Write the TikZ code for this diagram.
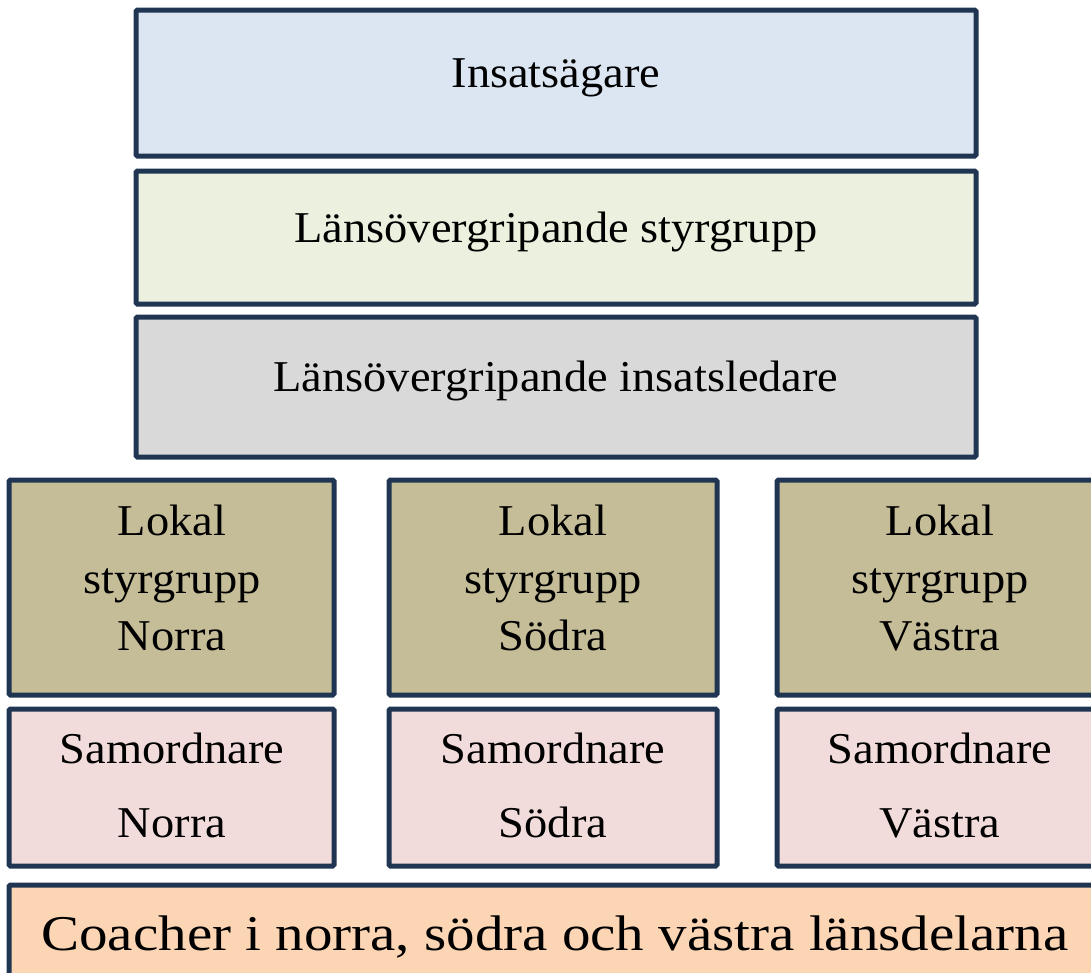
\documentclass[tikz,border=0pt]{standalone}
\usepackage{fontspec}
\setmainfont[FakeStretch=1.055]{Liberation Serif}
\newfontfamily\widefont[FakeStretch=1.14]{Liberation Serif}
\definecolor{bordc}{HTML}{1F3552}
\definecolor{cA}{HTML}{DCE6F2}
\definecolor{cB}{HTML}{EBF1DE}
\definecolor{cC}{HTML}{D9D9D9}
\definecolor{cD}{HTML}{C4BD97}
\definecolor{cE}{HTML}{F2DCDB}
\definecolor{cF}{HTML}{FCD5B5}
\begin{document}
\begin{tikzpicture}[x=1pt,y=-1pt,
  box/.style={draw=bordc, line width=5pt, rounded corners=1.5pt, inner sep=0pt, outer sep=0pt},
  lbl/.style={font=\fontsize{44}{57}\selectfont, anchor=base, inner sep=0pt},
  big/.style={font=\widefont\fontsize{50}{60}\selectfont, anchor=base, inner sep=0pt}]
\useasboundingbox (0,0) rectangle (1091,972);
\clip (0,0) rectangle (1091,972);
% top boxes
\node[box, fill=cA, minimum width=840pt, minimum height=146pt] (b1) at (556,83) {};
\node[box, fill=cB, minimum width=840pt, minimum height=133pt] (b2) at (556,237.5) {};
\node[box, fill=cC, minimum width=840pt, minimum height=140pt] (b3) at (556,387) {};
% local steering groups
\node[box, fill=cD, minimum width=325pt, minimum height=215pt] (l1) at (171.5,587.5) {};
\node[box, fill=cD, minimum width=328pt, minimum height=215pt] (l2) at (553,587.5) {};
\node[box, fill=cD, minimum width=330pt, minimum height=215pt] (l3) at (942,587.5) {};
% coordinators
\node[box, fill=cE, minimum width=325pt, minimum height=157pt] (s1) at (171.5,787.5) {};
\node[box, fill=cE, minimum width=328pt, minimum height=157pt] (s2) at (553,787.5) {};
\node[box, fill=cE, minimum width=330pt, minimum height=157pt] (s3) at (942,787.5) {};
% coaches
\node[box, fill=cF, minimum width=1100pt, minimum height=110pt] (c1) at (559,940) {};
% labels
\node[lbl] (t1) at (556,87) {Insatsägare};
\node[lbl] (t2) at (556,242) {Länsövergripande styrgrupp};
\node[lbl] (t3) at (556,391) {Länsövergripande insatsledare};
\node[lbl] (l1a) at (172,535) {Lokal};
\node[lbl] (l1b) at (172,593) {styrgrupp};
\node[lbl] (l1c) at (172,650) {Norra};
\node[lbl] (l2a) at (553,535) {Lokal};
\node[lbl] (l2b) at (553,593) {styrgrupp};
\node[lbl] (l2c) at (553,650) {Södra};
\node[lbl] (l3a) at (940,535) {Lokal};
\node[lbl] (l3b) at (940,593) {styrgrupp};
\node[lbl] (l3c) at (940,650) {Västra};
\node[lbl] (s1a) at (172,763) {Samordnare};
\node[lbl] (s1b) at (172,837) {Norra};
\node[lbl] (s2a) at (553,763) {Samordnare};
\node[lbl] (s2b) at (553,837) {Södra};
\node[lbl] (s3a) at (940,763) {Samordnare};
\node[lbl] (s3b) at (940,837) {Västra};
\node[big] (ct) at (555,950) {Coacher i norra, södra och västra länsdelarna};
\end{tikzpicture}
\end{document}
